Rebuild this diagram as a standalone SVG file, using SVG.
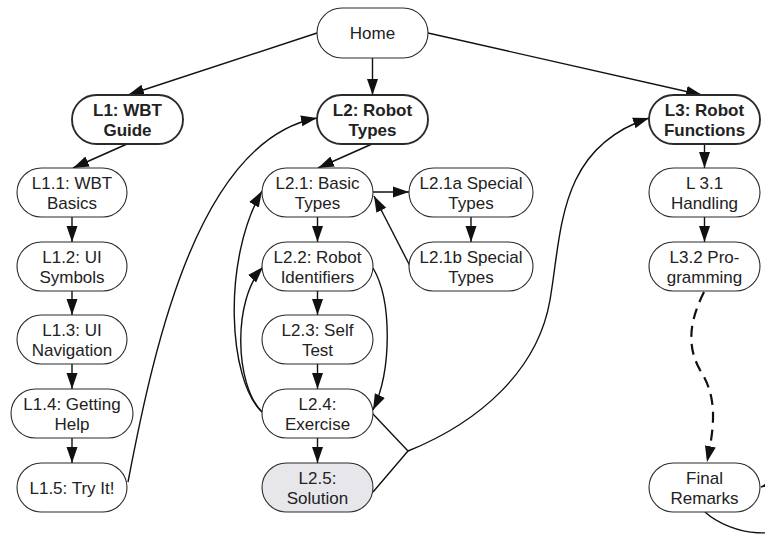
<svg xmlns="http://www.w3.org/2000/svg" width="765" height="535" viewBox="0 0 765 535">
<defs>
<style>
.n rect{fill:#fff;stroke:#2a2a2a;stroke-width:1.1}
.n.b rect{stroke-width:1.9}
.n.g rect{fill:#e7e7eb}
.n text{font-family:"Liberation Sans",Arial,sans-serif;font-size:17px;fill:#222;text-anchor:middle}
.n.b text{font-weight:bold}
.e path{fill:none;stroke:#111;stroke-width:1.4;marker-end:url(#ah)}
.e path.nm{marker-end:none}
.e path.d{stroke-width:2.2;stroke-dasharray:11 7}
</style>
<marker id="ah" markerUnits="userSpaceOnUse" markerWidth="16" markerHeight="12" refX="16" refY="6" orient="auto">
<path d="M0,0.5 L16,6 L0,11.5 z" fill="#111"/>
</marker>
</defs>
<rect width="765" height="535" fill="#fff"/>
<g class="e" id="connectors">
<path d="M317,33 L128,95"/>
<path d="M372.5,58 L372.5,95"/>
<path d="M428,33 L702,95"/>
<path d="M127,144 L73,168"/>
<path d="M372,144 L318,168"/>
<path d="M704.5,144 L704.5,168"/>
<path d="M72,217 L72,242"/>
<path d="M72,291 L72,315"/>
<path d="M72,364 L72,389"/>
<path d="M72,438 L72,463"/>
<path d="M128,482 C155,340 200,140 317,118"/>
<path d="M317.5,217 L317.5,242"/>
<path d="M317.5,291 L317.5,315"/>
<path d="M317.5,364 L317.5,389"/>
<path d="M317.5,438 L317.5,463"/>
<path d="M373,192 L409,192"/>
<path d="M471,217 L471,242"/>
<path d="M410,266 L374,196"/>
<path d="M373,268 C392,300 392,370 373,410"/>
<path d="M262,412 C228,380 222,260 262,191"/>
<path d="M262,412 C235,385 232,300 263,267"/>
<path class="nm" d="M373,414 L408,451 L373,492"/>
<path d="M408,451 C480,422 538,370 550,300 S558,148 649,118"/>
<path d="M704.5,217 L704.5,242"/>
<path class="d" d="M704,292 C690,320 686,345 700,370 C716,395 716,420 707,462"/>
<path d="M705,512 C730,535 790,545 795,510 C798,490 780,480 761,487"/>
</g>
<g class="n" id="home"><rect x="317" y="8" width="111" height="50" rx="25"/><text x="372.5" y="39">Home</text></g>
<g class="n b" id="l1"><rect x="72" y="95" width="111" height="49" rx="24.5"/><text x="127.5" y="115.5">L1: WBT</text><text x="127.5" y="135.5">Guide</text></g>
<g class="n b" id="l2"><rect x="317" y="95" width="111" height="49" rx="24.5"/><text x="372.5" y="115.5">L2: Robot</text><text x="372.5" y="135.5">Types</text></g>
<g class="n b" id="l3"><rect x="649" y="95" width="111" height="49" rx="24.5"/><text x="704.5" y="115.5">L3: Robot</text><text x="704.5" y="135.5">Functions</text></g>
<g class="n" id="l1_1"><rect x="17" y="168" width="110" height="49" rx="24.5"/><text x="72" y="188.5">L1.1: WBT</text><text x="72" y="208.5">Basics</text></g>
<g class="n" id="l1_2"><rect x="17" y="242" width="110" height="49" rx="24.5"/><text x="72" y="262.5">L1.2: UI</text><text x="72" y="282.5">Symbols</text></g>
<g class="n" id="l1_3"><rect x="17" y="315" width="110" height="49" rx="24.5"/><text x="72" y="335.5">L1.3: UI</text><text x="72" y="355.5">Navigation</text></g>
<g class="n" id="l1_4"><rect x="11" y="389" width="122" height="49" rx="24.5"/><text x="72" y="409.5">L1.4: Getting</text><text x="72" y="429.5">Help</text></g>
<g class="n" id="l1_5"><rect x="17" y="463" width="110" height="49" rx="24.5"/><text x="72" y="493.5">L1.5: Try It!</text></g>
<g class="n" id="l2_1"><rect x="262" y="168" width="111" height="49" rx="24.5"/><text x="317.5" y="188.5">L2.1: Basic</text><text x="317.5" y="208.5">Types</text></g>
<g class="n" id="l2_2"><rect x="262" y="242" width="111" height="49" rx="24.5"/><text x="317.5" y="262.5">L2.2: Robot</text><text x="317.5" y="282.5">Identifiers</text></g>
<g class="n" id="l2_3"><rect x="262" y="315" width="111" height="49" rx="24.5"/><text x="317.5" y="335.5">L2.3: Self</text><text x="317.5" y="355.5">Test</text></g>
<g class="n" id="l2_4"><rect x="262" y="389" width="111" height="49" rx="24.5"/><text x="317.5" y="409.5">L2.4:</text><text x="317.5" y="429.5">Exercise</text></g>
<g class="n g" id="l2_5"><rect x="262" y="463" width="111" height="49" rx="24.5"/><text x="317.5" y="483.5">L2.5:</text><text x="317.5" y="503.5">Solution</text></g>
<g class="n" id="l2_1a"><rect x="409" y="168" width="124" height="49" rx="24.5"/><text x="471" y="188.5">L2.1a Special</text><text x="471" y="208.5">Types</text></g>
<g class="n" id="l2_1b"><rect x="409" y="242" width="124" height="49" rx="24.5"/><text x="471" y="262.5">L2.1b Special</text><text x="471" y="282.5">Types</text></g>
<g class="n" id="l3_1"><rect x="649" y="168" width="111" height="49" rx="24.5"/><text x="704.5" y="188.5">L 3.1</text><text x="704.5" y="208.5">Handling</text></g>
<g class="n" id="l3_2"><rect x="649" y="242" width="111" height="49" rx="24.5"/><text x="704.5" y="262.5">L3.2 Pro-</text><text x="704.5" y="282.5">gramming</text></g>
<g class="n" id="final"><rect x="649" y="463" width="111" height="49" rx="24.5"/><text x="704.5" y="483.5">Final</text><text x="704.5" y="503.5">Remarks</text></g>
</svg>
